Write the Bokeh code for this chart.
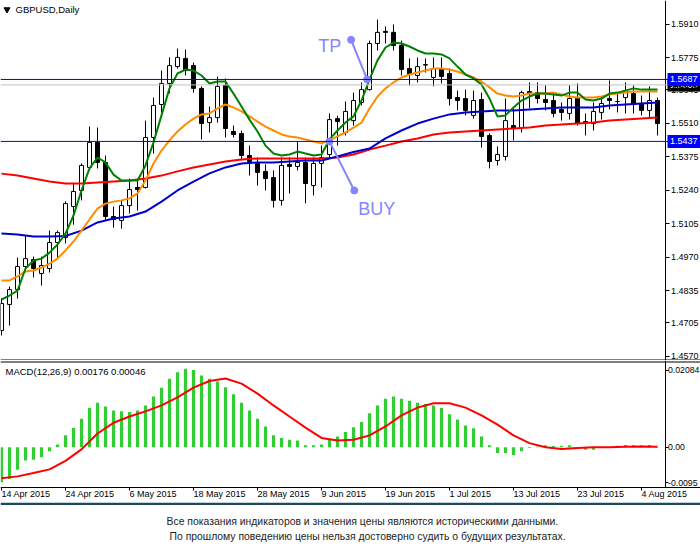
import numpy as np
from bokeh.plotting import figure
from bokeh.models import Range1d, FixedTicker, Span, Label, LinearAxis
from bokeh.layouts import column
from bokeh.embed import file_html
from bokeh.resources import INLINE
from bokeh.core.properties import value

# ---------------- data ----------------
symbol_title = "GBPUSD,Daily"
macd_title = "MACD(12,26,9) 0.00176 0.00046"
footer_lines = [
    "Все показания индикаторов и значения цены являются историческими данными.",
    "По прошлому поведению цены нельзя достоверно судить о будущих результатах.",
]

date_tick_bars = [0, 8, 16, 24, 32, 40, 48, 56, 64, 72, 80]
date_tick_labels = ["14 Apr 2015", "24 Apr 2015", "6 May 2015", "18 May 2015", "28 May 2015",
                    "9 Jun 2015", "19 Jun 2015", "1 Jul 2015", "13 Jul 2015", "23 Jul 2015",
                    "4 Aug 2015"]
price_ticks = [1.5910, 1.5775, 1.5645, 1.5510, 1.5375, 1.5240, 1.5105, 1.4970, 1.4835, 1.4705, 1.4570]
price_tick_labels = ["1.5910", "1.5775", "1.5645", "1.5510", "1.5375", "1.5240", "1.5105",
                     "1.4970", "1.4835", "1.4705", "1.4570"]
macd_ticks = [0.02084, 0.0, -0.00956]
macd_tick_labels = ["0.02084", "0.00", "-0.0095"]

opens = [1.4674, 1.4779, 1.4839, 1.4932, 1.4960, 1.4904, 1.4924, 1.5029, 1.5049, 1.5174,
         1.5239, 1.5332, 1.5433, 1.5352, 1.5134, 1.5118, 1.5178, 1.5251, 1.5251, 1.5453,
         1.5586, 1.5671, 1.5739, 1.5772, 1.5743, 1.5651, 1.5513, 1.5533, 1.5663, 1.5477,
         1.5469, 1.5380, 1.5348, 1.5316, 1.5291, 1.5199, 1.5344, 1.5336, 1.5352, 1.5259,
         1.5348, 1.5384, 1.5529, 1.5473, 1.5521, 1.5594, 1.5646, 1.5832, 1.5881, 1.5877,
         1.5824, 1.5731, 1.5703, 1.5745, 1.5695, 1.5731, 1.5711, 1.5614, 1.5610, 1.5542,
         1.5606, 1.5461, 1.5360, 1.5376, 1.5501, 1.5493, 1.5638, 1.5634, 1.5606, 1.5602,
         1.5566, 1.5550, 1.5614, 1.5517, 1.5509, 1.5554, 1.5610, 1.5598, 1.5614, 1.5630,
         1.5590, 1.5562, 1.5602]
highs = [1.4803, 1.4851, 1.4968, 1.5057, 1.4972, 1.4972, 1.5077, 1.5077, 1.5195, 1.5267,
         1.5348, 1.5497, 1.5493, 1.5380, 1.5174, 1.5199, 1.5287, 1.5279, 1.5521, 1.5614,
         1.5723, 1.5776, 1.5812, 1.5808, 1.5755, 1.5659, 1.5578, 1.5699, 1.5691, 1.5501,
         1.5481, 1.5420, 1.5372, 1.5344, 1.5320, 1.5372, 1.5372, 1.5437, 1.5372, 1.5372,
         1.5420, 1.5550, 1.5541, 1.5598, 1.5634, 1.5675, 1.5844, 1.5929, 1.5901, 1.5909,
         1.5844, 1.5772, 1.5776, 1.5772, 1.5776, 1.5776, 1.5731, 1.5642, 1.5646, 1.5642,
         1.5634, 1.5469, 1.5417, 1.5610, 1.5570, 1.5642, 1.5675, 1.5675, 1.5663, 1.5630,
         1.5594, 1.5663, 1.5671, 1.5550, 1.5594, 1.5618, 1.5683, 1.5634, 1.5675, 1.5663,
         1.5622, 1.5659, 1.5614]
lows = [1.4654, 1.4694, 1.4803, 1.4908, 1.4888, 1.4855, 1.4908, 1.4968, 1.5025, 1.5101,
        1.5199, 1.5320, 1.5328, 1.5118, 1.5089, 1.5085, 1.5146, 1.5158, 1.5247, 1.5388,
        1.5554, 1.5631, 1.5731, 1.5703, 1.5634, 1.5445, 1.5473, 1.5513, 1.5453, 1.5453,
        1.5360, 1.5299, 1.5259, 1.5239, 1.5170, 1.5178, 1.5227, 1.5320, 1.5187, 1.5219,
        1.5251, 1.5372, 1.5420, 1.5461, 1.5501, 1.5582, 1.5642, 1.5804, 1.5832, 1.5804,
        1.5703, 1.5663, 1.5675, 1.5715, 1.5659, 1.5671, 1.5582, 1.5562, 1.5542, 1.5529,
        1.5412, 1.5328, 1.5340, 1.5360, 1.5441, 1.5473, 1.5570, 1.5590, 1.5562, 1.5534,
        1.5521, 1.5525, 1.5501, 1.5461, 1.5481, 1.5525, 1.5566, 1.5554, 1.5550, 1.5550,
        1.5542, 1.5534, 1.5461]
closes = [1.4783, 1.4839, 1.4932, 1.4964, 1.4924, 1.4936, 1.5029, 1.5069, 1.5186, 1.5235,
          1.5340, 1.5433, 1.5352, 1.5134, 1.5122, 1.5178, 1.5243, 1.5243, 1.5453, 1.5582,
          1.5671, 1.5743, 1.5776, 1.5723, 1.5651, 1.5509, 1.5533, 1.5659, 1.5489, 1.5465,
          1.5380, 1.5356, 1.5312, 1.5287, 1.5199, 1.5340, 1.5336, 1.5352, 1.5267, 1.5348,
          1.5372, 1.5525, 1.5517, 1.5558, 1.5602, 1.5646, 1.5832, 1.5877, 1.5877, 1.5824,
          1.5727, 1.5707, 1.5739, 1.5747, 1.5731, 1.5699, 1.5610, 1.5602, 1.5562, 1.5602,
          1.5457, 1.5356, 1.5384, 1.5521, 1.5489, 1.5634, 1.5630, 1.5610, 1.5594, 1.5550,
          1.5554, 1.5610, 1.5509, 1.5513, 1.5558, 1.5590, 1.5602, 1.5598, 1.5642, 1.5586,
          1.5562, 1.5602, 1.5509]

ma_green = [1.4799, 1.4815, 1.4835, 1.4924, 1.4956, 1.4964, 1.4988, 1.5021, 1.5065, 1.5138,
            1.5239, 1.5328, 1.5372, 1.5352, 1.5303, 1.5279, 1.5279, 1.5279, 1.5340, 1.5433,
            1.5542, 1.5651, 1.5711, 1.5727, 1.5723, 1.5703, 1.5671, 1.5679, 1.5679, 1.5630,
            1.5578, 1.5525, 1.5477, 1.5420, 1.5388, 1.5380, 1.5384, 1.5396, 1.5388, 1.5380,
            1.5384, 1.5445, 1.5481, 1.5513, 1.5538, 1.5602, 1.5687, 1.5764, 1.5816, 1.5836,
            1.5832, 1.5820, 1.5804, 1.5792, 1.5792, 1.5788, 1.5772, 1.5739, 1.5707, 1.5691,
            1.5667, 1.5610, 1.5538, 1.5542, 1.5574, 1.5602, 1.5618, 1.5630, 1.5630, 1.5626,
            1.5622, 1.5634, 1.5634, 1.5606, 1.5602, 1.5610, 1.5630, 1.5634, 1.5642, 1.5651,
            1.5646, 1.5646, 1.5646]
ma_orange = [1.4876, 1.4876, 1.4892, 1.4912, 1.4916, 1.4928, 1.4944, 1.4964, 1.4997, 1.5033,
             1.5077, 1.5122, 1.5166, 1.5186, 1.5194, 1.5199, 1.5207, 1.5227, 1.5279, 1.5348,
             1.5400, 1.5441, 1.5477, 1.5505, 1.5529, 1.5546, 1.5550, 1.5570, 1.5586, 1.5574,
             1.5558, 1.5538, 1.5517, 1.5497, 1.5481, 1.5465, 1.5457, 1.5453, 1.5445, 1.5437,
             1.5429, 1.5441, 1.5457, 1.5473, 1.5493, 1.5513, 1.5570, 1.5618, 1.5651, 1.5675,
             1.5695, 1.5707, 1.5715, 1.5723, 1.5731, 1.5731, 1.5727, 1.5719, 1.5707, 1.5695,
             1.5679, 1.5655, 1.5630, 1.5622, 1.5618, 1.5622, 1.5630, 1.5630, 1.5630, 1.5634,
             1.5626, 1.5618, 1.5614, 1.5614, 1.5614, 1.5618, 1.5626, 1.5630, 1.5634, 1.5638,
             1.5638, 1.5638, 1.5638]
# slow averages, read every second bar
ma_blue = [1.5065, 1.5061, 1.5053, 1.5053, 1.5055, 1.5077, 1.5110, 1.5126, 1.5134, 1.5154,
           1.5194, 1.5239, 1.5275, 1.5308, 1.5332, 1.5348, 1.5352, 1.5352, 1.5356, 1.5360,
           1.5360, 1.5376, 1.5394, 1.5408, 1.5449, 1.5481, 1.5509, 1.5529, 1.5546, 1.5554,
           1.5558, 1.5562, 1.5562, 1.5566, 1.5570, 1.5574, 1.5574, 1.5574, 1.5582, 1.5586,
           1.5590, 1.5594]
ma_red = [1.5307, 1.5299, 1.5287, 1.5275, 1.5267, 1.5267, 1.5271, 1.5275, 1.5279, 1.5287,
          1.5299, 1.5316, 1.5332, 1.5344, 1.5356, 1.5364, 1.5368, 1.5368, 1.5368, 1.5368,
          1.5368, 1.5372, 1.5384, 1.5404, 1.5420, 1.5437, 1.5449, 1.5465, 1.5473, 1.5477,
          1.5481, 1.5485, 1.5489, 1.5493, 1.5501, 1.5505, 1.5509, 1.5513, 1.5521, 1.5525,
          1.5529, 1.5533]

macd_hist = [-0.0095, -0.0086, -0.0061, -0.0036, -0.0034, -0.0027, -0.0011, 0.0007, 0.0032, 0.0052,
             0.0077, 0.0107, 0.0120, 0.0110, 0.0099, 0.0097, 0.0095, 0.0099, 0.0113, 0.0137,
             0.0161, 0.0185, 0.0203, 0.0212, 0.0209, 0.0194, 0.0185, 0.0178, 0.0162, 0.0143,
             0.0120, 0.0099, 0.0077, 0.0056, 0.0032, 0.0025, 0.0020, 0.0018, 0.0005, 0.0005,
             0.0007, 0.0020, 0.0029, 0.0041, 0.0054, 0.0068, 0.0092, 0.0113, 0.0131, 0.0137,
             0.0131, 0.0126, 0.0120, 0.0117, 0.0113, 0.0106, 0.0089, 0.0075, 0.0059, 0.0051,
             0.0029, 0.0005, -0.0016, -0.0016, -0.0021, -0.0011, -0.0002, 0.0002, 0.0005, 0.0003,
             0.0003, 0.0005, 0.0000, -0.0007, -0.0007, -0.0001, 0.0000, 0.0004, 0.0006, 0.0006,
             0.0005, 0.0006, -0.0001]
macd_signal = [-0.0084, -0.0079, -0.0070, -0.0060, -0.0037, -0.0006, 0.0037, 0.0066, 0.0083, 0.0097,
               0.0113, 0.0135, 0.0161, 0.0179, 0.0186, 0.0172, 0.0145, 0.0113, 0.0083, 0.0053,
               0.0025, 0.0018, 0.0020, 0.0032, 0.0056, 0.0086, 0.0107, 0.0119, 0.0119, 0.0107,
               0.0086, 0.0061, 0.0032, 0.0011, 0.0000, -0.0005, -0.0002, 0.0000, 0.0000, 0.0001,
               0.0002, 0.0001]

tp_level = 1.5687
buy_level = 1.5437
ask_level = 1.5665
tp_arrow = {"x": [43.7, 45.7], "y": [1.5847, tp_level]}
buy_arrow = {"x": [41.0, 44.1], "y": [buy_level, 1.5239]}
tp_text_pos = (39.6, 1.5822)
buy_text_pos = (44.6, 1.5164)

# ---------------- geometry / styling ----------------
FONT = "Liberation Sans"
W = 700
AXIS_PX = 664.5           # x pixel of the price-axis line
MAIN_H = 360
MACD_H = 142
MACD_FRAME_BOTTOM = 126.5 # pixel (from top of MACD figure) of its bottom border
X0 = -0.125               # bar units at the left edge (8 px per bar)
X_END = X0 + W / 8.0
Y_TOP = 1.60057           # price at the top edge of the main panel
PY = 0.14489 / 359.0      # price per pixel
M0, M1 = -0.01064, 0.02292
MS = (M1 - M0) / 124.0    # macd units per pixel
M_TOP = M1 + 2 * MS

def px_x(px):
    return X0 + px / 8.0

def px_y(py):
    return Y_TOP - py * PY

def mpx_y(py):            # py measured from the top of the MACD figure
    return M_TOP - py * MS

n = len(closes)
idx = np.arange(n)
idx2 = np.arange(0, n, 2)
o = np.array(opens); c = np.array(closes)
body_top = np.maximum(o, c)
body_bot = np.minimum(o, c)
fills = ["white" if cc >= oo else "black" for oo, cc in zip(opens, closes)]

def style_axis(ax, size="9px"):
    ax.major_label_text_font = FONT
    ax.major_label_text_font_size = size
    ax.major_label_text_color = "black"
    ax.axis_line_color = "black"
    ax.major_tick_line_color = "black"
    ax.major_tick_in = 0
    ax.minor_tick_in = 0
    ax.minor_tick_out = 0

def right_axis(fig, ticks, labels, tick_out, standoff, size="9px", bounds="auto"):
    ax = LinearAxis(fixed_location=px_x(AXIS_PX), ticker=FixedTicker(ticks=ticks),
                    major_label_overrides=dict(zip(ticks, labels)), bounds=bounds)
    style_axis(ax, size)
    ax.major_tick_out = tick_out
    ax.major_label_standoff = standoff
    fig.add_layout(ax, "right")
    return ax

def clean(fig):
    fig.grid.visible = False
    fig.outline_line_color = None
    fig.background_fill_color = "white"
    fig.border_fill_color = "white"

# ---------------- main price panel ----------------
main = figure(width=W, height=MAIN_H, x_range=Range1d(X0, X_END),
              y_range=Range1d(px_y(MAIN_H), Y_TOP),
              x_axis_location=None, y_axis_location=None, toolbar_location=None,
              output_backend="svg", min_border=0)
clean(main)

main.add_layout(Span(location=px_y(359.5), dimension="width", line_color="black", line_width=1))
main.add_layout(Span(location=ask_level, dimension="width", line_color="#c0c0c0", line_width=1))
main.add_layout(Span(location=tp_level, dimension="width", line_color="#0000ee", line_width=1))
main.add_layout(Span(location=buy_level, dimension="width", line_color="#0000ee", line_width=1))

main.segment(x0=idx, y0=lows, x1=idx, y1=highs, line_color="black", line_width=1)
main.vbar(x=idx, top=body_top, bottom=body_bot, width=0.5, fill_color=fills,
          line_color="black", line_width=1)

main.line(idx2, ma_red, line_color="#ff0000", line_width=2)
main.line(idx2, ma_blue, line_color="#0000cd", line_width=2)
main.line(idx, ma_orange, line_color="#ff8c00", line_width=2)
main.line(idx, ma_green, line_color="#008000", line_width=2)

LAV = "#8585ff"
for arr in (tp_arrow, buy_arrow):
    main.line(arr["x"], arr["y"], line_color=LAV, line_width=2)
    main.scatter(arr["x"], arr["y"], size=7, fill_color=LAV, line_color=LAV)
main.add_layout(Label(x=tp_text_pos[0], y=tp_text_pos[1], text="TP", text_color=LAV,
                      text_font=FONT, text_font_size="18px", text_baseline="middle"))
main.add_layout(Label(x=buy_text_pos[0], y=buy_text_pos[1], text="BUY", text_color=LAV,
                      text_font=FONT, text_font_size="18px", text_baseline="middle"))

# title
main.scatter([px_x(6.5)], [px_y(9)], marker="inverted_triangle", size=6,
             fill_color="black", line_color="black")
main.add_layout(Label(x=px_x(15), y=px_y(3), text=symbol_title, text_font=FONT,
                      text_font_size="9.5px", text_color="black", text_baseline="top"))

# price labels sitting on the axis
def price_box(level, text, color, level_name):
    main.quad(left=[px_x(667)], right=[px_x(W)], bottom=[level - 6.5 * PY],
              top=[level + 6.5 * PY], fill_color=color, line_color=None, level=level_name)
    main.text(x=[px_x(669.5)], y=[level], text=[text], text_font=value(FONT),
              text_font_size="9px", text_color="white", text_baseline="middle",
              text_align="left", level=level_name)

price_box(ask_level, "1.5665", "black", "glyph")
right_axis(main, price_ticks, price_tick_labels, 4, 2)
price_box(tp_level, "1.5687", "#0000ff", "overlay")
price_box(buy_level, "1.5437", "#0000ff", "overlay")

# ---------------- MACD panel (with date axis) ----------------
macd = figure(width=W, height=MACD_H, x_range=Range1d(X0, X_END),
              y_range=Range1d(mpx_y(MACD_H), M_TOP),
              x_axis_location=None, y_axis_location=None, toolbar_location=None,
              output_backend="svg", min_border=0)
clean(macd)
macd.add_layout(Span(location=mpx_y(1.5), dimension="width", line_color="black", line_width=1))
right_axis(macd, macd_ticks, macd_tick_labels, 3, 0, size="8.7px",
           bounds=(mpx_y(MACD_FRAME_BOTTOM), M_TOP))

mx = LinearAxis(fixed_location=mpx_y(MACD_FRAME_BOTTOM), ticker=FixedTicker(ticks=date_tick_bars),
                major_label_overrides={t: l for t, l in zip(date_tick_bars, date_tick_labels)})
style_axis(mx)
mx.major_tick_out = 3
mx.major_label_standoff = 4
mx.major_label_orientation = -0.0001
macd.add_layout(mx, "below")

macd.vbar(x=idx, top=macd_hist, bottom=0, width=0.4, fill_color="#32cd32", line_color=None)
macd.line(idx2, macd_signal, line_color="#ff0000", line_width=2)
macd.add_layout(Label(x=px_x(5), y=mpx_y(5), text=macd_title,
                      text_font=FONT, text_font_size="9.5px", text_color="black",
                      text_baseline="top"))

# ---------------- footer ----------------
foot = figure(width=W, height=50, x_range=Range1d(0, W), y_range=Range1d(0, 50),
              x_axis_location=None, y_axis_location=None, toolbar_location=None,
              output_backend="svg", min_border=0)
clean(foot)
foot.quad(left=[0], right=[W], bottom=[47.5], top=[50], fill_color="#1b4a5c", line_color=None)
foot.text(x=[166, 169], y=[31, 16], text=footer_lines, text_font=value(FONT),
          text_font_size="10.4px", text_align="left", text_baseline="middle",
          text_color="#222222")

layout = column(main, macd, foot, spacing=0)
open("out.html", "w").write(file_html(layout, INLINE, title="GBPUSD Daily"))
